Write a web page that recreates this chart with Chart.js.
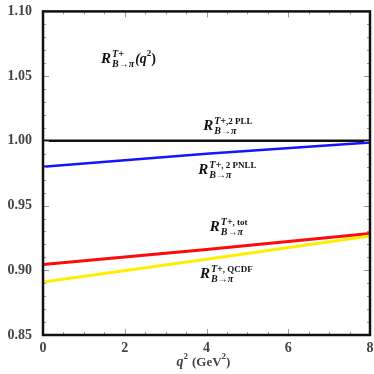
<!DOCTYPE html>
<html lang="en">
<head>
<meta charset="UTF-8">
<title>R ratio vs q2</title>
<script src="https://cdn.jsdelivr.net/npm/chart.js"></script>
<style>
  body { margin: 0; background: #fff; }
</style>
</head>
<body>
<canvas id="myChart" width="374" height="374"></canvas>
<script>
// q^2 values (GeV^2) and ratios
const q2 = [0, 4, 8];
const pll = [1.000, 1.000, 1.000];
const pnll = [0.980, 0.990, 0.9987];
const tot = [0.9044, 0.916, 0.9285];
const qcdf = [0.891, 0.9085, 0.9265];

const xTicks = [0, 2, 4, 6, 8];
const yTicks = [0.85, 0.90, 0.95, 1.00, 1.05, 1.10];

// labels inside the plot
const notes = [
    { x: 1.42, y: 1.060, sup: 'T+', tail: true },
    { x: 3.92, y: 1.008, sup: 'T+,2 PLL' },
    { x: 3.80, y: 0.974, sup: 'T+, 2 PNLL' },
    { x: 4.08, y: 0.930, sup: 'T+, tot' },
    { x: 3.84, y: 0.894, sup: 'T+, QCDF' }
];

function toPts(ys) {
    return q2.map((x, i) => ({ x: x, y: ys[i] }));
}

const serif = '"Liberation Serif", "DejaVu Serif", serif';

const framePlugin = {
    id: 'frame',
    afterDatasetsDraw(chart) {
        const c = chart.ctx;
        const a = chart.chartArea;
        const xs = chart.scales.x, ys = chart.scales.y;
        c.save();
        // minor and major ticks, inside
        c.strokeStyle = '#999';
        c.lineWidth = 1;
        for (let v = 0.85; v <= 1.1001; v += 0.01) {
            const p = Math.round(ys.getPixelForValue(v)) + 0.5;
            const major = Math.abs(v * 20 - Math.round(v * 20)) < 1e-6;
            c.beginPath();
            c.moveTo(a.left, p); c.lineTo(a.left + (major ? 6 : 3), p);
            c.moveTo(a.right, p); c.lineTo(a.right - (major ? 6 : 3), p);
            c.stroke();
        }
        for (let v = 0; v <= 8.001; v += 0.5) {
            const p = Math.round(xs.getPixelForValue(v)) + 0.5;
            const major = Math.abs(v / 2 - Math.round(v / 2)) < 1e-6;
            c.beginPath();
            c.moveTo(p, a.bottom); c.lineTo(p, a.bottom - (major ? 6 : 3));
            c.moveTo(p, a.top); c.lineTo(p, a.top + (major ? 6 : 3));
            c.stroke();
        }
        // frame
        c.strokeStyle = '#111';
        c.lineWidth = 2.5;
        c.strokeRect(a.left, a.top, a.right - a.left, a.bottom - a.top);

        // labels
        c.fillStyle = '#111';
        c.textBaseline = 'alphabetic';
        notes.forEach(n => {
            let px = xs.getPixelForValue(n.x);
            const py = ys.getPixelForValue(n.y);
            c.font = 'italic bold 15px ' + serif;
            c.fillText('R', px, py);
            px += c.measureText('R').width + 1;
            const rest = n.sup.slice(2);
            c.font = 'italic bold 10px ' + serif;
            c.fillText('T+', px, py - 6);
            let supW = c.measureText('T+').width;
            if (rest) {
                c.font = 'bold 9px ' + serif;
                c.fillText(rest, px + supW, py - 6);
                supW += c.measureText(rest).width;
            }
            c.font = 'italic bold 10px ' + serif;
            c.fillText('B\u2192\u03c0', px, py + 4);
            const subW = c.measureText('B\u2192\u03c0').width;
            if (n.tail) {
                let tx = px + Math.max(supW, subW) + 1;
                c.font = 'italic bold 14px ' + serif;
                c.fillText('(q', tx, py);
                tx += c.measureText('(q').width;
                c.font = 'bold 9px ' + serif;
                c.fillText('2', tx, py - 7);
                tx += c.measureText('2').width;
                c.font = 'bold 14px ' + serif;
                c.fillText(')', tx, py);
            }
        });

        // x-axis title: q^2 (GeV^2)
        let tx = (a.left + a.right) / 2 - 30;
        const ty = 366;
        c.fillStyle = '#444';
        c.font = 'italic bold 14px ' + serif;
        c.fillText('q', tx, ty);
        tx += c.measureText('q').width;
        c.font = 'bold 9px ' + serif;
        c.fillText('2', tx, ty - 7);
        tx += c.measureText('2').width + 4;
        c.font = 'bold 13px ' + serif;
        c.fillText('(GeV', tx, ty);
        tx += c.measureText('(GeV').width;
        c.font = 'bold 9px ' + serif;
        c.fillText('2', tx, ty - 7);
        tx += c.measureText('2').width;
        c.font = 'bold 13px ' + serif;
        c.fillText(')', tx, ty);
        c.restore();
    }
};

const ctx = document.getElementById('myChart').getContext('2d');
const chart = new Chart(ctx, {
    type: 'line',
    data: {
        datasets: [
            { label: 'PLL', data: toPts(pll), borderColor: '#111111', borderWidth: 2.5 },
            { label: 'PNLL', data: toPts(pnll), borderColor: '#1414ff', borderWidth: 2.5 },
            { label: 'QCDF', data: toPts(qcdf), borderColor: '#ffee00', borderWidth: 3 },
            { label: 'tot', data: toPts(tot), borderColor: '#ff0a0a', borderWidth: 3 }
        ]
    },
    options: {
        responsive: false,
        animation: false,
        devicePixelRatio: 1,
        layout: { padding: { top: 10, right: 4, left: 0, bottom: 0 } },
        elements: { point: { radius: 0 }, line: { tension: 0 } },
        plugins: { legend: { display: false }, tooltip: { enabled: false } },
        scales: {
            x: {
                type: 'linear',
                min: 0, max: 8,
                afterBuildTicks: s => { s.ticks = xTicks.map(v => ({ value: v })); },
                afterFit: s => { s.height = 39; },
                grid: { display: false },
                border: { display: false },
                ticks: {
                    padding: -3,
                    color: '#444',
                    font: { family: serif, size: 14, weight: 'bold' },
                    callback: v => String(v)
                }
            },
            y: {
                type: 'linear',
                min: 0.85, max: 1.10,
                afterBuildTicks: s => { s.ticks = yTicks.map(v => ({ value: v })); },
                afterFit: s => { s.width = 43; },
                grid: { display: false },
                border: { display: false },
                ticks: {
                    padding: 3,
                    color: '#444',
                    font: { family: serif, size: 14, weight: 'bold' },
                    callback: v => v.toFixed(2)
                }
            }
        }
    },
    plugins: [framePlugin]
});
</script>
</body>
</html>
